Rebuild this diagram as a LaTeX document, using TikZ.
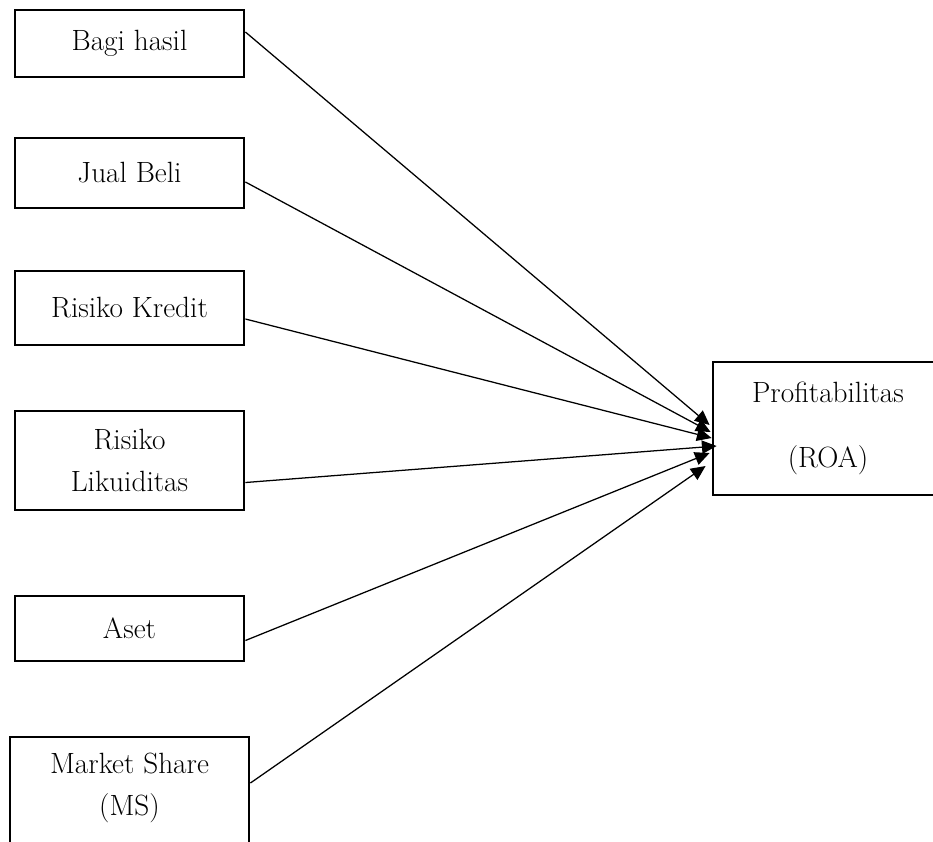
\documentclass[tikz,border=0pt]{standalone}
\usetikzlibrary{arrows.meta,calc}
\begin{document}
\begin{tikzpicture}[x=0.3mm,y=-0.3mm]
		\tikzstyle{Var} = [rectangle, minimum width=68.7mm, text centered, align=center, draw=black, line width=0.85mm, fill=white, font=\fontsize{25}{36}\selectfont]
		\tikzstyle{Label} = [align=center, font=\fontsize{25}{36}\selectfont]
		\tikzstyle{arrow} = [line width=0.38mm, -{Triangle[length=4.4mm,width=4mm]}]
		
		\useasboundingbox (0,0) rectangle (933,841);
		\node (bagi) [Var, minimum height=20.1mm] at (129.5,43.5) {Bagi hasil};
		\node (jual) [Var, minimum height=21mm] at (129.5,173) {Jual Beli};
		\node (kredit) [Var, minimum height=22.2mm] at (129.5,308) {Risiko Kredit};
		\node (likuid) [Var, minimum height=29.7mm] at (129.5,460.5) {Risiko\\Likuiditas};
		\node (aset) [Var, minimum height=19.5mm] at (129.5,628.5) {Aset};
		\node (ms) [Var, minimum width=71.7mm, minimum height=44.4mm] at (129.5,811) {};
		\node (msLabel) [Label] at (129.5,788) {Market Share\\(MS)};
		\node (roa) [Var, minimum width=69mm, minimum height=39.9mm] at (828,428.5) {Profitabilitas\\[20pt](ROA)};
		\draw [arrow] ($(bagi.east)+(0,-11.5)$) -- ($(roa.west)+(-2,-3.5)$);
		\draw [arrow] ($(jual.east)+(0,9)$) -- ($(roa.west)+(-1,3.5)$);
		\draw [arrow] ($(kredit.east)+(0,11)$) -- ($(roa.west)+(0,9.5)$);
		\draw [arrow] ($(likuid.east)+(0,22)$) -- ($(roa.west)+(5,17.5)$);
		\draw [arrow] ($(aset.east)+(0,12)$) -- ($(roa.west)+(-2,24.5)$);
		\draw [arrow] ($(ms.east)+(0,-28)$) -- ($(roa.west)+(-6,37.5)$);
		\end{tikzpicture}
\end{document}
